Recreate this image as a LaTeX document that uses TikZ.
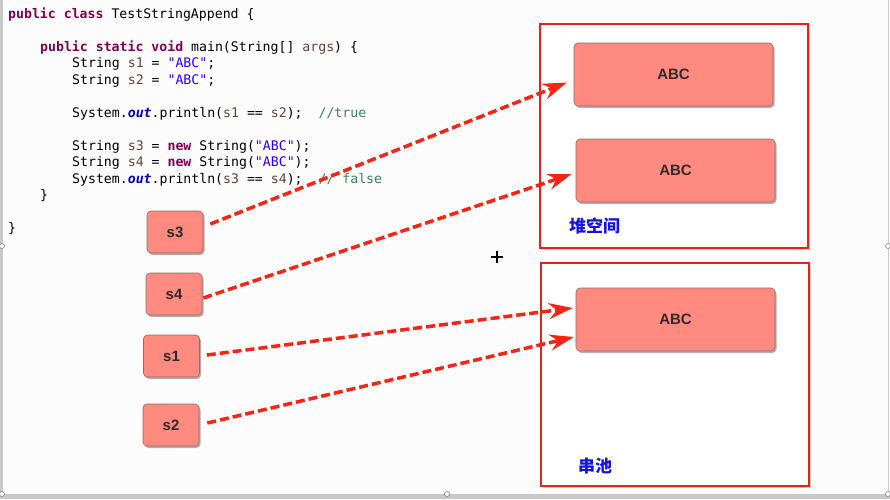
\documentclass[tikz,border=0pt]{standalone}
\usepackage{fontspec}
\usepackage{xcolor}
\usetikzlibrary{arrows.meta,shadows}
\newfontfamily\codefont{DejaVu Sans Mono}
\newfontfamily\boxfont{Liberation Sans}
\newfontfamily\cjk{Noto Sans CJK SC}
\definecolor{kwcol}{RGB}{127,0,85}
\definecolor{strcol}{RGB}{42,0,255}
\definecolor{varcol}{RGB}{106,62,62}
\definecolor{comcol}{RGB}{63,127,95}
\definecolor{outcol}{RGB}{0,0,192}
\definecolor{boxfill}{RGB}{255,138,128}
\definecolor{boxline}{RGB}{150,105,100}
\definecolor{txtcol}{RGB}{50,42,42}
\definecolor{framecol}{RGB}{225,35,25}
\definecolor{ptrcol}{RGB}{250,35,20}
\definecolor{lblcol}{RGB}{20,20,225}
\definecolor{edgecol}{RGB}{200,200,200}
\newcommand{\kw}[1]{{\color{kwcol}\bfseries #1}}
\newcommand{\jstr}[1]{{\color{strcol}#1}}
\newcommand{\jvar}[1]{{\color{varcol}#1}}
\newcommand{\jcom}[1]{{\color{comcol}#1}}
\newcommand{\jout}{{\color{outcol}\bfseries\itshape out}}
\tikzset{
    code/.style = {anchor=base west, inner sep=0pt, font=\fontsize{13.2}{16}\selectfont\codefont},
    var/.style = {draw=boxline, line width=0.6pt, fill=boxfill, rounded corners=4pt,
        minimum width=56pt, minimum height=42pt, inner sep=0pt, text=txtcol,
        font=\fontsize{15}{18}\selectfont\boxfont\bfseries,
        drop shadow={shadow xshift=1.5pt, shadow yshift=-2pt, opacity=0.3, fill=black}},
    obj/.style = {var, minimum width=199pt, minimum height=63pt},
    frame/.style = {draw=framecol, line width=2pt, fill=white, inner sep=0pt,
        minimum width=268pt, minimum height=224pt,
        drop shadow={shadow xshift=1.5pt, shadow yshift=-1.5pt, opacity=0.2, fill=black}},
    lbl/.style = {anchor=west, inner sep=0pt, text=lblcol, font=\fontsize{17}{20}\selectfont\cjk\bfseries},
    ptr/.style = {draw=ptrcol, line width=3.5pt, dash pattern=on 9pt off 4pt,
        -{Stealth[length=24pt, width=16pt, inset=8pt]}},
    handle/.style = {draw=gray, fill=white, line width=0.6pt}
}

\begin{document}
\begin{tikzpicture}[x=1pt,y=-1pt]
    \useasboundingbox (0,0) rectangle (890,499);
    \fill[white!99!black] (0,0) rectangle (890,499);
    % window edges
    \fill[edgecol] (0,0) rectangle (3,494);
    \fill[edgecol] (0,494) rectangle (890,499);
    \draw[edgecol, line width=1pt] (888.5,0) -- (888.5,494);
    \foreach \p in {(2,246),(2,494),(447,494),(888,246),(888,494)}
        \draw[handle] \p circle (2.5pt);

    % source code
    \node[code] (l1) at (8,18) {\kw{public} \kw{class} TestStringAppend \{};
    \node[code] (l2) at (40,51) {\kw{public} \kw{static} \kw{void} main(String[] \jvar{args}) \{};
    \node[code] (l3) at (72,67) {String \jvar{s1} = \jstr{"ABC"};};
    \node[code] (l4) at (72,84) {String \jvar{s2} = \jstr{"ABC"};};
    \node[code] (l5) at (72,117) {System.\jout.println(\jvar{s1} == \jvar{s2});\ \ \jcom{//true}};
    \node[code] (l6) at (72,150) {String \jvar{s3} = \kw{new} String(\jstr{"ABC"});};
    \node[code] (l7) at (72,166) {String \jvar{s4} = \kw{new} String(\jstr{"ABC"});};
    \node[code] (l8) at (72,183) {System.\jout.println(\jvar{s3} == \jvar{s4});\ \ \jcom{// false}};
    \node[code] (l9) at (40,199) {\}};
    \node[code] (l10) at (8,232) {\}};

    % heap and string pool
    \node[frame] (heap) at (674,136) {};
    \node[frame, minimum height=223pt] (pool) at (675,374.5) {};
    \node[lbl] (heaplbl) at (569,226) {堆空间};
    \node[lbl] (poollbl) at (578,466) {串池};

    \node[obj] (abc1) at (673.5,74.5) {ABC};
    \node[obj] (abc2) at (675.5,170.5) {ABC};
    \node[obj] (abc3) at (675.5,319.5) {ABC};

    % references
    \node[var] (s3) at (175,232) {s3};
    \node[var] (s4) at (174,294) {s4};
    \node[var] (s1) at (171.5,356) {s1};
    \node[var] (s2) at (171,425) {s2};

    \draw[ptr] ([shift={(7pt,8pt)}]s3.east) -- ([shift={(-7pt,-8pt)}]abc1.west);
    \draw[ptr] ([shift={(1pt,-4pt)}]s4.east) -- ([shift={(-4pt,-3.5pt)}]abc2.west);
    \draw[ptr] ([shift={(7pt,1pt)}]s1.east) -- ([shift={(-3pt,11.5pt)}]abc3.west);
    \draw[ptr] ([shift={(8pt,2pt)}]s2.east) -- ([shift={(-2pt,-17.5pt)}]abc3.west);

    \draw[line width=1.2pt] (491,257) -- (503,257) (497,251) -- (497,263);
\end{tikzpicture}
\end{document}
